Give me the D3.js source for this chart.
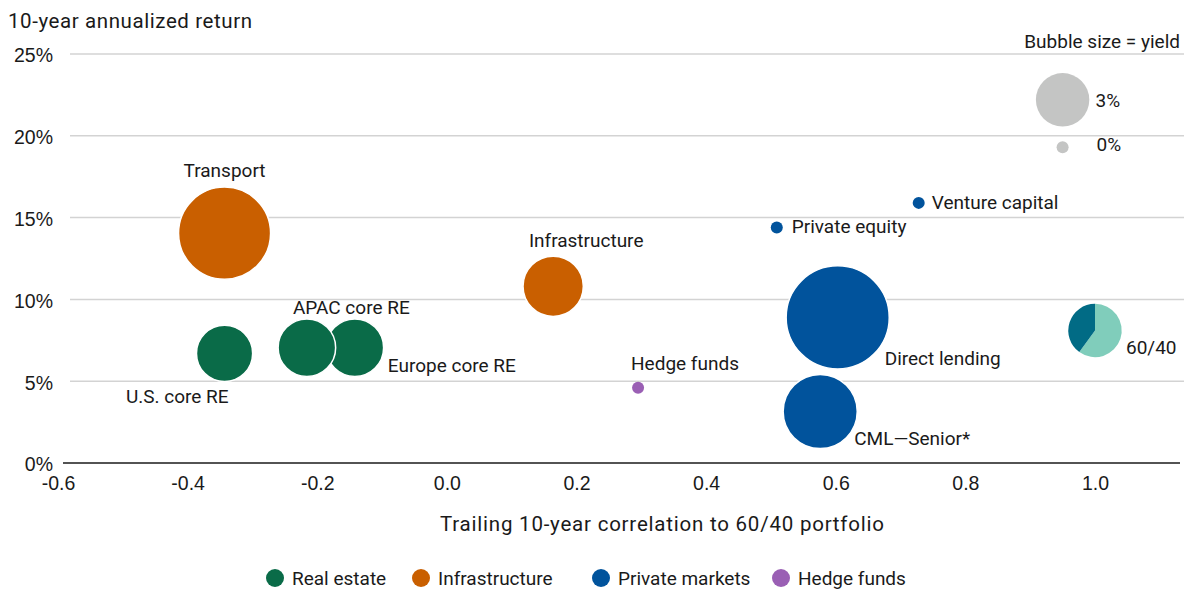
<!DOCTYPE html>
<html>
<head>
<meta charset="utf-8">
<script src="https://cdn.jsdelivr.net/npm/d3@7"></script>
<style>
  body { margin: 0; background: #fff; }
  svg { font-family: Roboto, "Noto Sans", sans-serif; fill: #1a1a1a; }
  .axis .domain, .axis line { display: none; }
  .axis text { font-size: 19.5px; fill: #1a1a1a; }
</style>
</head>
<body>
<div id="chart"></div>
<script>
const width = 1184;
const height = 590;

// data
const names = ["Transport", "U.S. core RE", "Europe core RE", "APAC core RE", "Infrastructure",
    "Hedge funds", "Private equity", "Venture capital", "Direct lending", "CML\u2014Senior*"];
const groups = ["Infrastructure", "Real estate", "Real estate", "Real estate", "Infrastructure",
    "Hedge funds", "Private markets", "Private markets", "Private markets", "Private markets"];
const correlation = [-0.343, -0.343, -0.142, -0.216, 0.164, 0.295, 0.509, 0.728, 0.603, 0.576];
const annReturn = [14.05, 6.7, 7.05, 7.05, 10.8, 4.6, 14.4, 15.9, 8.9, 3.15];
const yieldPct = [5.8, 3.2, 3.3, 3.3, 3.5, 0, 0, 0, 6.6, 4.5];

const portfolio = { name: "60/40", correlation: 1.0, ret: 8.1, yld: 3.0 };
const portfolioSplit = [60, 40];

const legendGroups = ["Real estate", "Infrastructure", "Private markets", "Hedge funds"];
const sizeLegend = [3, 0];
const xTicks = [-0.6, -0.4, -0.2, 0.0, 0.2, 0.4, 0.6, 0.8, 1.0];
const yTicks = [0, 5, 10, 15, 20, 25];

const colors = {
    "Real estate": "#0a6b48",
    "Infrastructure": "#c95f00",
    "Private markets": "#01539c",
    "Hedge funds": "#9a5fb4"
};
const pieColors = ["#80cdbb", "#016b85"];

// label offsets from bubble centre (px)
const labelPos = {
    "Transport": { dx: 0, dy: -56, anchor: "middle" },
    "U.S. core RE": { dx: 4, dy: 50, anchor: "end" },
    "APAC core RE": { dx: -14, dy: -34, anchor: "start" },
    "Europe core RE": { dx: 33, dy: 24, anchor: "start" },
    "Infrastructure": { dx: 33, dy: -39, anchor: "middle" },
    "Hedge funds": { dx: -7, dy: -18, anchor: "start" },
    "Private equity": { dx: 15, dy: 6, anchor: "start" },
    "Venture capital": { dx: 13, dy: 6, anchor: "start" },
    "Direct lending": { dx: 47, dy: 48, anchor: "start" },
    "CML\u2014Senior*": { dx: 34, dy: 34, anchor: "start" },
    "60/40": { dx: 31, dy: 24, anchor: "start" }
};

const points = names.map((n, i) => ({
    name: n, group: groups[i], x: correlation[i], y: annReturn[i], yld: yieldPct[i]
}));

const x = d3.scaleLinear().domain([-0.6, 1.0]).range([58, 1095]);
const y = d3.scaleLinear().domain([0, 25]).range([463, 54]);
const r = d3.scaleLinear().domain([0, 3]).range([6, 26.7]);

const svg = d3.select("#chart").append("svg")
    .attr("width", width)
    .attr("height", height);

// gridlines
svg.append("g")
    .selectAll("line")
    .data(yTicks.filter(d => d > 0))
    .enter().append("line")
    .attr("x1", 70).attr("x2", width)
    .attr("y1", d => y(d)).attr("y2", d => y(d))
    .attr("stroke", "#d3d3d3")
    .attr("stroke-width", 1.5);

// baseline
svg.append("line")
    .attr("x1", 63).attr("x2", 1180)
    .attr("y1", y(0)).attr("y2", y(0))
    .attr("stroke", "#1a1a1a")
    .attr("stroke-width", 1.5);

// axes
const yAxis = svg.append("g")
    .attr("class", "axis")
    .attr("transform", "translate(53,0)")
    .call(d3.axisLeft(y).tickValues(yTicks).tickFormat(d => d + "%").tickSize(0).tickPadding(0));
yAxis.selectAll("text").attr("dy", "0.4em");

svg.append("g")
    .attr("class", "axis")
    .attr("transform", `translate(0,${y(0)})`)
    .call(d3.axisBottom(x).tickValues(xTicks).tickFormat(d => d.toFixed(1)).tickSize(0).tickPadding(13));

svg.append("text")
    .attr("x", 8).attr("y", 28)
    .attr("font-size", 20.5)
    .attr("textLength", 244)
    .attr("lengthAdjust", "spacing")
    .text("10-year annualized return");

svg.append("text")
    .attr("x", 440).attr("y", 531)
    .attr("font-size", 20.5)
    .attr("textLength", 444)
    .attr("lengthAdjust", "spacing")
    .text("Trailing 10-year correlation to 60/40 portfolio");

// size legend
svg.append("text")
    .attr("x", 1180).attr("y", 48)
    .attr("text-anchor", "end")
    .attr("font-size", 19)
    .text("Bubble size = yield");

const sizeY = [22.2, 19.3];
const sl = svg.append("g").selectAll("g")
    .data(sizeLegend)
    .enter().append("g");
sl.append("circle")
    .attr("cx", x(0.95))
    .attr("cy", (d, i) => y(sizeY[i]))
    .attr("r", d => r(d))
    .attr("fill", "#c4c5c4");
sl.append("text")
    .attr("x", (d, i) => x(0.95) + (i === 0 ? 33 : 34))
    .attr("y", (d, i) => y(sizeY[i]) + (i === 0 ? 7 : 4))
    .attr("font-size", 19)
    .text(d => d + "%");

// bubbles
const bubbles = svg.append("g");
bubbles.selectAll("circle")
    .data(points)
    .enter().append("circle")
    .attr("cx", d => x(d.x))
    .attr("cy", d => y(d.y))
    .attr("r", d => r(d.yld))
    .attr("fill", d => colors[d.group])
    .attr("stroke", d => d.yld > 0 ? "#fff" : "none")
    .attr("stroke-width", 1.5);

// 60/40 pie
const pie = d3.pie().sort(null)(portfolioSplit);
const arc = d3.arc().innerRadius(0).outerRadius(r(portfolio.yld));
svg.append("g")
    .attr("transform", `translate(${x(portfolio.correlation)},${y(portfolio.ret)})`)
    .selectAll("path")
    .data(pie)
    .enter().append("path")
    .attr("d", arc)
    .attr("fill", (d, i) => pieColors[i]);

// labels
const labelData = points.concat([{ name: portfolio.name, x: portfolio.correlation, y: portfolio.ret }]);
svg.append("g").selectAll("text")
    .data(labelData)
    .enter().append("text")
    .attr("x", d => x(d.x) + labelPos[d.name].dx)
    .attr("y", d => y(d.y) + labelPos[d.name].dy)
    .attr("text-anchor", d => labelPos[d.name].anchor)
    .attr("font-size", 19)
    .text(d => d.name);

// legend
const legendX = [275, 421, 601, 781];
const lg = svg.append("g").selectAll("g")
    .data(legendGroups)
    .enter().append("g")
    .attr("transform", (d, i) => `translate(${legendX[i]},578)`);
lg.append("circle").attr("r", 9).attr("fill", d => colors[d]);
lg.append("text")
    .attr("x", 17).attr("y", 7)
    .attr("font-size", 19)
    .text(d => d);
</script>
</body>
</html>
